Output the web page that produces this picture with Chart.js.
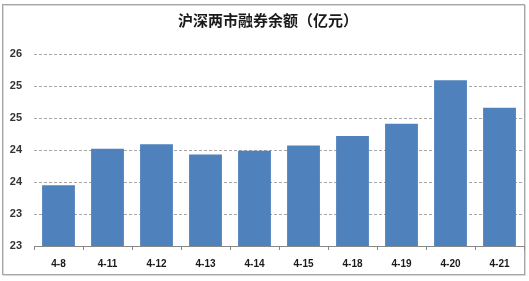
<!DOCTYPE html>
<html>
<head>
<meta charset="utf-8">
<script src="https://cdn.jsdelivr.net/npm/chart.js@4"></script>
<style>
html,body{margin:0;padding:0;background:#fff;}
#wrap{position:absolute;left:0;top:0;width:529px;height:281px;}
</style>
</head>
<body>
<div id="wrap"><canvas id="c" width="529" height="281"></canvas></div>
<script>
const titleText = '沪深两市融券余额（亿元）';
const categories = ['4-8','4-11','4-12','4-13','4-14','4-15','4-18','4-19','4-20','4-21'];
const values = [23.95, 24.52, 24.59, 24.43, 24.49, 24.57, 24.72, 24.91, 25.59, 25.16];
const yTickValues = [23, 23.5, 24, 24.5, 25, 25.5, 26];
const yTickLabels = ['23','23','24','24','25','25','26'];

const frame = {
  id: 'frame',
  beforeDraw(chart) {
    const ctx = chart.ctx;
    ctx.save();
    ctx.fillStyle = '#fff';
    ctx.fillRect(0, 0, chart.width, chart.height);
    ctx.strokeStyle = '#d8d8d8';
    ctx.lineWidth = 1;
    ctx.strokeRect(3.5, 5.5, 522, 270);
    ctx.strokeStyle = '#a6a6a6';
    ctx.strokeRect(2.5, 4.5, 522, 270);
    ctx.fillStyle = '#1a1a1a';
    ctx.font = 'bold 15px "Noto Sans CJK SC"';
    ctx.textAlign = 'center';
    ctx.textBaseline = 'middle';
    ctx.fillText(titleText, 268, 20);
    ctx.restore();
  }
};

new Chart(document.getElementById('c'), {
  type: 'bar',
  data: {
    labels: categories,
    datasets: [{
      data: values,
      backgroundColor: '#4f81bd',
      borderWidth: 0,
      barPercentage: 0.67,
      categoryPercentage: 1.0
    }]
  },
  options: {
    responsive: false,
    animation: false,
    devicePixelRatio: 1,
    layout: { padding: { left: 0, right: 5, top: 54, bottom: 3 } },
    plugins: { legend: { display: false }, title: { display: false }, tooltip: { enabled: false } },
    scales: {
      y: {
        min: 23, max: 26,
        afterBuildTicks(scale) { scale.ticks = yTickValues.map(v => ({ value: v })); },
        afterFit(scale) { scale.width = 34; },
        ticks: {
          padding: 12,
          color: '#333',
          font: { family: 'Liberation Sans', size: 11, weight: 'bold' },
          callback: (v, i) => yTickLabels[i]
        },
        grid: { color: '#a6a6a6', drawTicks: false, tickLength: 0 },
        border: { display: false, dash: [3, 2] }
      },
      x: {
        offset: true,
        grid: { offset: true, drawOnChartArea: false, drawTicks: true, tickLength: 4, color: '#888' },
        border: { display: true, color: '#888' },
        ticks: {
          padding: 8,
          color: '#1a1a1a',
          font: { family: 'Liberation Sans', size: 10, weight: 'bold' }
        }
      }
    }
  },
  plugins: [frame]
});
</script>
</body>
</html>
